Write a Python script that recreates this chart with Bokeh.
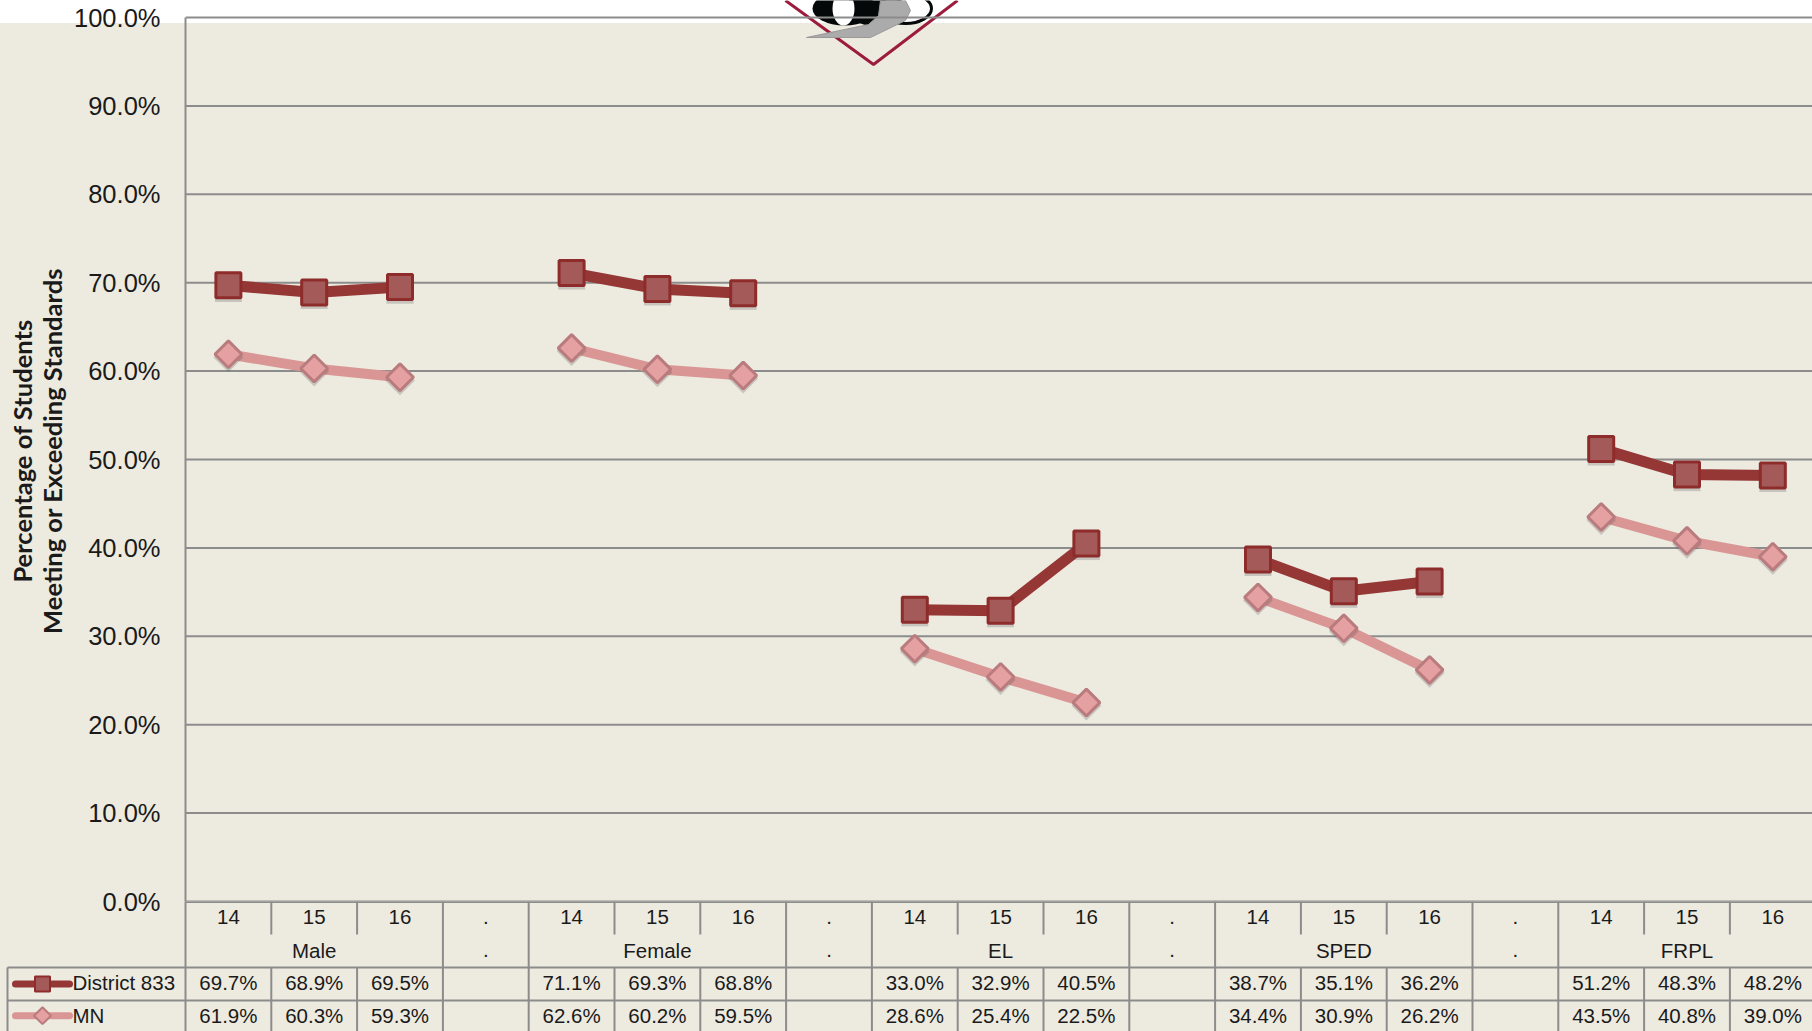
from bokeh.plotting import figure
from bokeh.layouts import column
from bokeh.models import Range1d, LinearAxis, FixedTicker, Span, NumeralTickFormatter
from bokeh.transform import dodge
from bokeh.core.properties import value
from bokeh.embed import file_html
from bokeh.resources import INLINE

years = ["14", "15", "16", ".", "14", "15", "16", ".", "14", "15", "16", ".", "14", "15", "16", ".", "14", "15", "16"]
groups = ["Male", ".", "Female", ".", "EL", ".", "SPED", ".", "FRPL"]
group_slots = [1.5, 3.5, 5.5, 7.5, 9.5, 11.5, 13.5, 15.5, 17.5]
district = [69.7, 68.9, 69.5, None, 71.1, 69.3, 68.8, None, 33.0, 32.9, 40.5, None, 38.7, 35.1, 36.2, None, 51.2, 48.3, 48.2]
mn = [61.9, 60.3, 59.3, None, 62.6, 60.2, 59.5, None, 28.6, 25.4, 22.5, None, 34.4, 30.9, 26.2, None, 43.5, 40.8, 39.0]
y_ticks = [0, 10, 20, 30, 40, 50, 60, 70, 80, 90, 100]
series_names = ["District 833", "MN"]
y_title = "Percentage of Students\nMeeting or Exceeding Standards"

BEIGE = "#EDEAE0"; GRID = "#8C8C8C"; INK = "#1A1A1A"
D_LINE = "#953735"; D_FILL = "#A55A5A"; D_EDGE = "#8E2C2C"
M_LINE = "#D99694"; M_FILL = "#E5A1A1"; M_EDGE = "#B97B7D"
FONT = "Liberation Sans"

W, H = 1812, 1031
LEFT, ZERO_Y, TOP_Y, SLOT = 185, 901, 17, 85.8
OVERLAP = 18
PX_PER_PCT = (ZERO_Y - TOP_Y) / 100

nan = float("nan")
xs = [i + 0.5 for i in range(len(years))]
dv = [nan if v is None else v for v in district]
mv = [nan if v is None else v for v in mn]
px_x = lambda px: (px - LEFT) / SLOT
px_y = lambda px: (ZERO_Y - px) / PX_PER_PCT

p = figure(width=W, height=ZERO_Y + OVERLAP, output_backend="svg", toolbar_location=None,
           x_range=Range1d(0, (W - LEFT) / SLOT), y_range=Range1d(0, ZERO_Y / PX_PER_PCT),
           x_axis_location=None, y_axis_location=None,
           background_fill_alpha=0, border_fill_alpha=0, outline_line_color=None,
           min_border_left=LEFT, min_border_right=0, min_border_top=0, min_border_bottom=OVERLAP,
           frame_align=False)
p.xgrid.visible = False
p.ygrid.visible = False

ax = LinearAxis(ticker=FixedTicker(ticks=y_ticks), bounds=(0, 100))
ax.formatter = NumeralTickFormatter(format="0.0")
ax.major_label_overrides = {t: f"{t:.1f}%" for t in y_ticks}
ax.major_tick_line_color = None; ax.minor_tick_line_color = None
ax.axis_line_color = GRID; ax.axis_line_width = 2
ax.major_label_standoff = 19
ax.major_label_text_font = FONT; ax.major_label_text_font_size = "25.5px"; ax.major_label_text_color = INK
ax.axis_label = y_title
ax.axis_label_standoff = 4
ax.axis_label_text_font = "Lato"; ax.axis_label_text_font_size = "25.5px"
ax.axis_label_text_font_style = "bold"; ax.axis_label_text_color = INK
ax.axis_label_text_line_height = 1.0
p.add_layout(ax, "left")

# logo
p.line([px_x(v) for v in (785, 873, 957)], [px_y(v) for v in (0, 64, 0)], line_color="#9B1C3C", line_width=3)
for cx, rx, ry, fill in [(905, 26, 15, "white"), (875, 28, 16, "#050808")]:
    p.ellipse(px_x(cx), px_y(8), width=2 * rx / SLOT, height=2 * ry / PX_PER_PCT, fill_color=fill,
              line_color="#050808", line_width=3)
p.ellipse(px_x(844), px_y(8), width=64 / SLOT, height=34 / PX_PER_PCT, fill_color="#050808", line_color=None)
p.patch([px_x(v) for v in (806, 870, 905, 910, 905, 880, 878, 868)],
        [px_y(v) for v in (37, 37, 20, 10, 0, 0, 15, 24)], fill_color="#ABABAB", line_color="#999999")
p.ellipse(px_x(843), px_y(8), width=22 / SLOT, height=34 / PX_PER_PCT, fill_color="white", line_color=None)

for t in y_ticks:
    p.add_layout(Span(location=t, dimension="width", line_color=GRID, line_width=2, level="underlay" if t < 100 else "annotation"))

for vals, lc, lw in [(mv, M_LINE, 10), (dv, D_LINE, 11)]:
    p.line(xs, vals, line_color=lc, line_width=lw)
for vals, marker, size, angle, fill, edge in [(mv, "square", 19, 0.7854, M_FILL, M_EDGE),
                                              (dv, "square", 25, 0, D_FILL, D_EDGE)]:
    src = {"x": xs, "y": vals}
    p.scatter("x", dodge("y", -0.35), source=src, marker=marker, size=size + 2, angle=angle,
              fill_color="#555555", fill_alpha=0.25, line_color=None)
    p.scatter("x", "y", source=src, marker=marker, size=size, angle=angle,
              fill_color=fill, line_color=edge, line_width=3)

# data table under the chart
ROW = 33
t = figure(width=W, height=H - ZERO_Y, output_backend="svg", toolbar_location=None,
           x_range=Range1d(-LEFT / SLOT, (W - LEFT) / SLOT), y_range=Range1d((H - ZERO_Y) / ROW, 0),
           x_axis_location=None, y_axis_location=None,
           background_fill_alpha=0, border_fill_alpha=0, outline_line_color=None,
           min_border_left=0, min_border_right=0, min_border_top=0, min_border_bottom=0,
           frame_align=False, margin=(-OVERLAP, 0, 0, 0))
t.xgrid.visible = False
t.ygrid.visible = False

n = len(years)
left_edge = px_x(7)
t.line([0, n], [0, 0], line_color=GRID, line_width=3)
for row in (2, 3):
    t.line([left_edge, n], [row, row], line_color=GRID, line_width=2)
t.line([left_edge, left_edge], [2, 4], line_color=GRID, line_width=2)
for i in range(n + 1):
    boundary = i == 0 or years[i - 1] == "." or (i < n and years[i] == ".")
    if boundary:
        t.line([i, i], [0, 4], line_color=GRID, line_width=2)
    else:
        t.line([i, i], [0, 1], line_color=GRID, line_width=2)
        t.line([i, i], [2, 4], line_color=GRID, line_width=2)

text_kw = dict(text_font=value(FONT), text_font_size="20.5px", text_color=INK, text_align="center", text_baseline="middle")
t.text(xs, [0.47] * n, text=years, **text_kw)
t.text(group_slots, [1.47] * len(groups), text=groups, **text_kw)
t.text(xs, [2.45] * n, text=[("" if v is None else f"{v:.1f}%") for v in district], **text_kw)
t.text(xs, [3.45] * n, text=[("" if v is None else f"{v:.1f}%") for v in mn], **text_kw)

key_kw = dict(text_font=value(FONT), text_font_size="20.5px", text_color=INK, text_align="left", text_baseline="middle")
t.text([px_x(72)] * 2, [2.45, 3.45], text=series_names, **key_kw)
t.line([px_x(15), px_x(69)], [2.5, 2.5], line_color=D_LINE, line_width=7, line_cap="round")
t.line([px_x(15), px_x(69)], [3.46, 3.46], line_color=M_LINE, line_width=7, line_cap="round")
t.scatter([px_x(42)], [2.5], marker="square", size=15, fill_color=D_FILL, line_color=D_EDGE, line_width=2)
t.scatter([px_x(42)], [3.46], marker="square", size=12, angle=0.7854, fill_color=M_FILL, line_color=M_EDGE, line_width=2)

page = column(p, t, spacing=0, margin=(0, 0, 0, 0),
              styles={"background": f"linear-gradient(#FFFFFF 23px, {BEIGE} 23px)"})
open("out.html", "w").write(file_html(page, INLINE))
